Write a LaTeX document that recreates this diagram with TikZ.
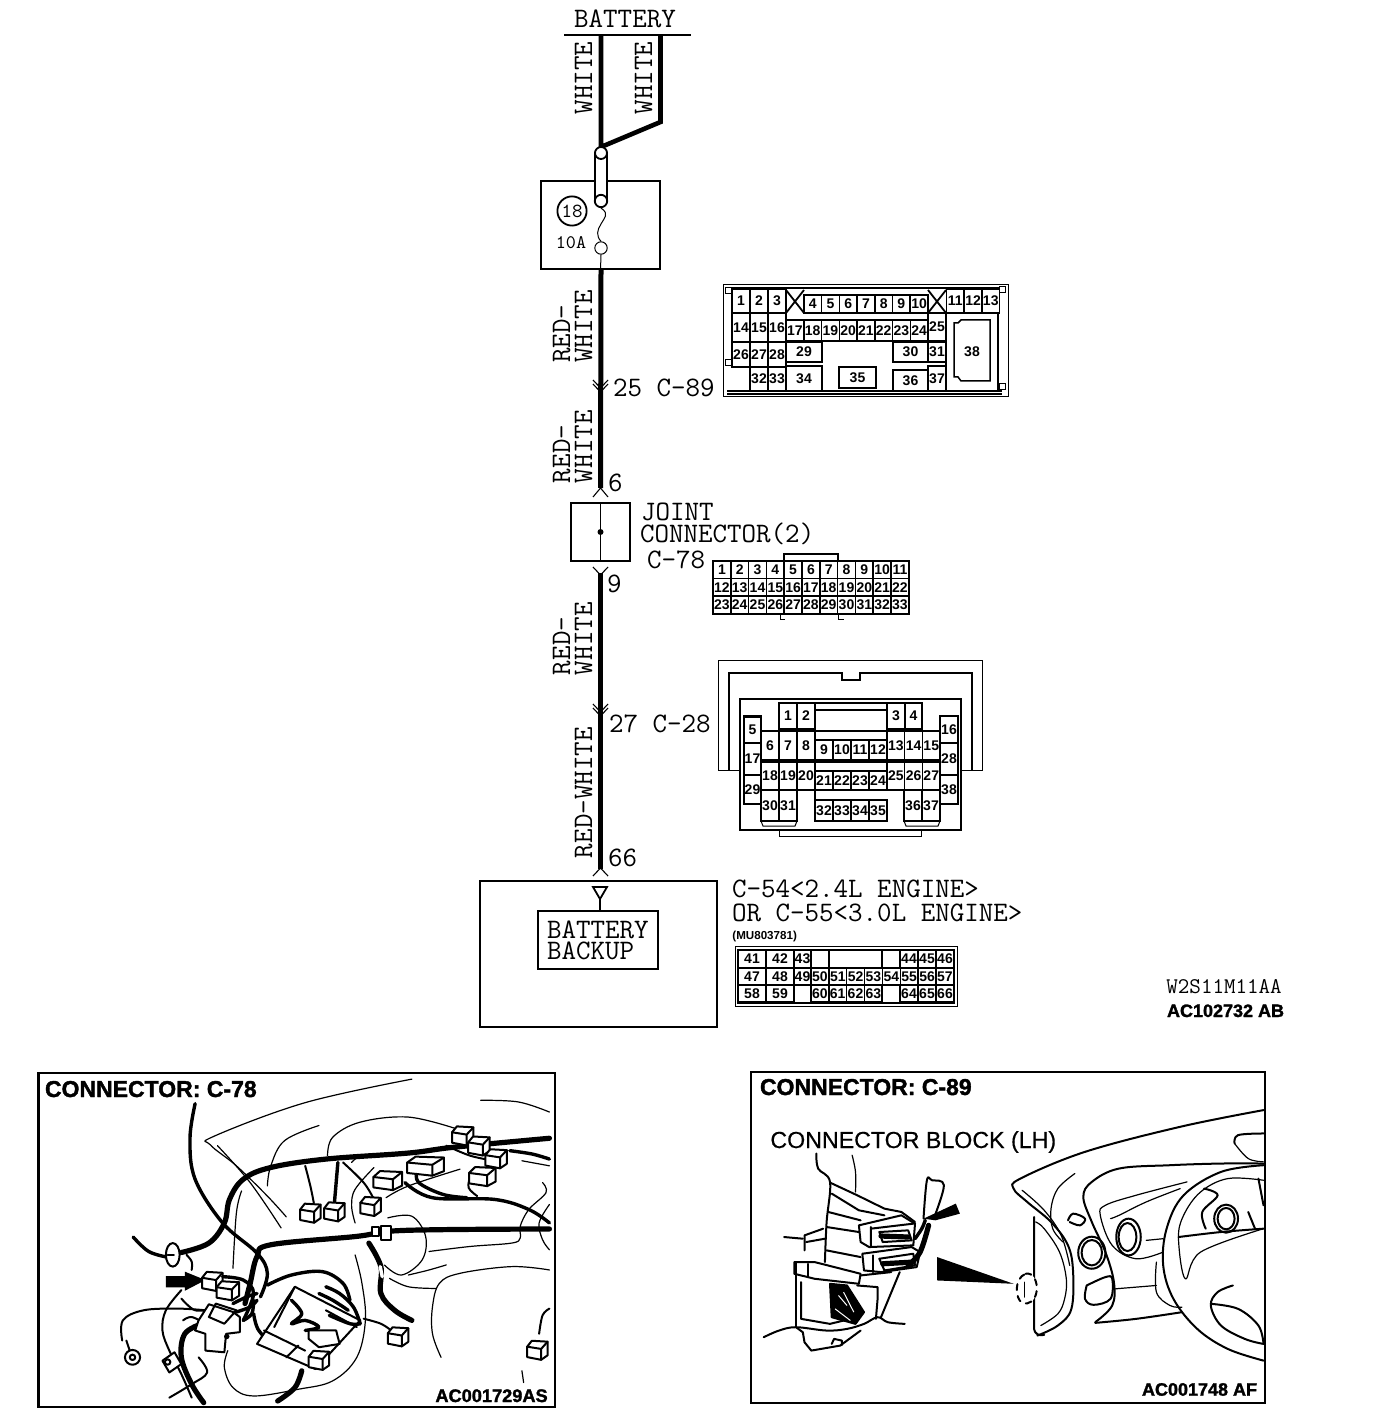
\documentclass[tikz,border=0pt]{standalone}
\usepackage{fontspec}
\setsansfont{Liberation Sans}
\usetikzlibrary{calc}
\newfontfamily\hvy{Liberation Sans}[BoldFeatures={FakeBold=1.6}]
\newfontfamily\hvl{Liberation Sans}[FakeBold=0.5]
\tikzset{
  pxl/.style={x=0.5pt,y=-0.5pt},
  thinl/.style={line width=0.5pt},
  medl/.style={line width=0.9pt},
  wire/.style={line width=2.3pt},
  mono/.style={font=\ttfamily\fontsize{14.1}{14}\selectfont,inner sep=0pt,outer sep=0pt},
  monov/.style={mono,rotate=90},
  cellline/.style={line width=0.75pt},
  celltxt/.style={font=\sffamily\bfseries\fontsize{7}{7}\selectfont,inner sep=0pt},
  heavy/.style={inner sep=0pt,outer sep=0pt},
  sk/.style={line width=0.6pt,line cap=round,line join=round},
  skm/.style={line width=1pt,line cap=round,line join=round},
  skw/.style={line width=1.7pt,line cap=round,line join=round},
  skww/.style={line width=2.6pt,line cap=round,line join=round},
  chev/.style={line width=0.55pt},
}
\newcommand\cprefix{a}
\newcommand\cell[5]{\draw[cellline] (#1,#2) rectangle (#3,#4);
  \node[celltxt] (cell-\cprefix-#5) at ({(#1+#3)/2},{(#2+#4)/2}) {#5};}
\newcommand\rowcells[5]{\foreach \l [count=\i from 0] in {#5}{%
  \cell{#1+\i*#4}{#2}{#1+\i*#4+#4}{#3}{\l}}}
\newcommand\sm[2][sk]{\draw[#1] plot[smooth,tension=0.6] coordinates {#2};}
% small connector prism in zoom coordinates: centre, half width
\newcommand\prism[3][1]{\begin{scope}[shift={(#2,#3)},yscale=1.35,xscale=1.35]
  \draw[skm,fill=white] (-22*#1,-5) -- (-12*#1,-18) -- (22*#1,-16) -- (22*#1,14) -- (8*#1,24) -- (-22*#1,18) -- cycle;
  \draw[skm] (-22*#1,-5) -- (8*#1,0) -- (22*#1,-16) (8*#1,0) -- (8*#1,24);
  \end{scope}}
\begin{document}
\begin{tikzpicture}[pxl]
\useasboundingbox (0,0) rectangle (1392,1422);
% ------- names for the main chain
\node[mono,anchor=base] (bat) at (625,27.5) {BATTERY};
\coordinate (barL) at (564,35);
\coordinate (barR) at (691,35);
\draw[line width=1.1pt] (barL) -- (barR);
\coordinate (wa) at (601,35);
\coordinate (wb) at (660.5,35);
\coordinate (wbk) at (660.5,122);
\coordinate (wj) at (601,147);
\draw[wire,line join=miter] (wa) -- (wj) -- (wbk) -- (wb);
% fuse
\node[draw,line width=0.7pt,minimum width=59.5pt,minimum height=44pt,inner sep=0pt] (fuse) at (600.5,225) {};
\draw[medl,fill=white,rounded corners=3pt] (595,148) rectangle (607,206);
\node[draw,medl,circle,fill=white,minimum size=6pt,inner sep=0pt] (ct) at (601,153) {};
\node[draw,medl,circle,fill=white,minimum size=6.2pt,inner sep=0pt] (cm) at (601,201) {};
\node[draw,thinl,circle,minimum size=6.2pt,inner sep=0pt] (cb) at (601,248) {};
\draw[thinl] (cm.south) .. controls (610,214) and (604,218) .. (601,224) .. controls (597,230) and (596,236) .. (cb.north);
\node[draw,medl,circle,minimum size=14.6pt,inner sep=0pt,font=\ttfamily\fontsize{10}{10}\selectfont] (f18) at (572,211) {18};
\node[font=\ttfamily\fontsize{9.6}{10}\selectfont,inner sep=0pt] (f10) at (571,243) {10A};
\draw[thinl] (cb.south) -- (fuse.south);
% joint
\node[draw,medl,minimum width=29.5pt,minimum height=29pt,inner sep=0pt] (joint) at (600.5,532) {};
\node[circle,fill,minimum size=3pt,inner sep=0pt] (jd) at (joint.center) {};
\draw[medl] (joint.north) -- (joint.south);
% backup
\node[draw,line width=0.85pt,minimum width=118.5pt,minimum height=73pt,inner sep=0pt] (ecu) at (598.5,954) {};
\node[draw,line width=0.85pt,minimum width=60pt,minimum height=29pt,inner sep=0pt] (bb) at (598,940) {};
\node[mono,anchor=base west] (bbt1) at (547,938) {BATTERY};
\node[mono,anchor=base west] (bbt2) at (547,959) {BACKUP};
\coordinate (tip) at (600,899);
\draw[medl] (593,887) -- (607,887) -- (tip) -- cycle;
\draw[medl] (tip) -- (bb.north-|tip);
% wires
\coordinate (w6) at (600.5,488);
\coordinate (w9) at (600.5,573);
\coordinate (w66) at (600.5,869);
\draw[line width=2.5pt] (fuse.south) ++(0.5,0) -- (w6);
\draw[line width=2.5pt] (w9) -- (w66);
% chevrons
\draw[chev] (593,497) -- (600.5,488) -- (608,497);
\draw[chev] (593,567) -- (600.5,575) -- (608,567);
\draw[chev] (593,876) -- (600.5,868) -- (608,876);
\draw[chev] (593,380) -- (600.5,388) -- (608,380) (593,384) -- (600.5,392) -- (608,384);
\draw[chev] (593,704) -- (600.5,712) -- (608,704) (593,708) -- (600.5,716) -- (608,708);
% wire labels
\node[monov,anchor=base] at (592,78) {WHITE};
\node[monov,anchor=base] at (652,78) {WHITE};
\node[monov,anchor=base west] at (570,363) {RED-};
\node[monov,anchor=base west] at (592,363) {WHITE};
\node[monov,anchor=base west] at (570,483) {RED-};
\node[monov,anchor=base west] at (592,483) {WHITE};
\node[monov,anchor=base west] at (570,675) {RED-};
\node[monov,anchor=base west] at (592,675) {WHITE};
\node[monov,anchor=base west] at (592,858) {RED-WHITE};
\node[mono,anchor=base west] at (613,397) {25 C-89};
\node[mono,anchor=base west] at (608,491) {6};
\node[mono,anchor=base west] at (641,520) {JOINT};
\node[mono,anchor=base west] at (640,542) {CONNECTOR(2)};
\node[mono,anchor=base west] at (647,568) {C-78};
\node[mono,anchor=base west] at (607,592) {9};
\node[mono,anchor=base west] at (609,732) {27 C-28};
\node[mono,anchor=base west] at (608,866) {66};
\node[mono,anchor=base west] at (732,897) {C-54<2.4L ENGINE>};
\node[mono,anchor=base west] at (732,921) {OR C-55<3.0L ENGINE>};
\node[font=\sffamily\bfseries\fontsize{5.8}{6}\selectfont,anchor=base west,inner sep=0pt] at (732,939) {(MU803781)};
\node[font=\ttfamily\fontsize{11.2}{12}\selectfont,anchor=base west,inner sep=0pt] at (1166,993) {W2S11M11AA};
\node[heavy,font=\hvy\bfseries\fontsize{9}{9}\selectfont,anchor=base west] at (1167,1017) {AC102732 AB};

% ------- C-89
\renewcommand\cprefix{c89}
\draw[thinl] (723,285) rectangle (1008,397);
\draw[medl] (727,288) -- (1004,288) (727,391) -- (1002,391) (727,394) -- (1002,394);
\foreach \xx/\yy in {728/291,1002/290,728/363,1002/387}{\draw[thinl,fill=white] (\xx-3,\yy-3) rectangle (\xx+3,\yy+3);}
\rowcells{732}{289}{313}{18}{1,2,3}
\draw[medl] (786,290) -- (804,313) (804,290) -- (786,313);
\rowcells{804}{295}{313}{17.7}{4,5,6,7,8,9,10}
\draw[medl] (928,290) -- (946,313) (946,290) -- (928,313);
\rowcells{946.5}{289}{313}{17.7}{11,12,13}
\rowcells{732}{313}{342}{18}{14,15,16}
\rowcells{786}{320}{341}{17.75}{17,18,19,20,21,22,23,24}
\cell{928}{313}{946}{341}{25}
\rowcells{732}{342}{367}{18}{26,27,28}
\cell{786}{342}{822}{362}{29}
\cell{893}{342}{928}{362}{30}
\cell{928}{342}{946}{362}{31}
\rowcells{750}{367}{391}{18}{32,33}
\cell{786}{366}{822}{391}{34}
\cell{839}{367}{876}{388}{35}
\cell{893}{370}{928}{391}{36}
\cell{928}{366}{946}{391}{37}
\draw[cellline] (946,313) rectangle (998,391);
\draw[cellline] (954,323) -- (958,323) -- (961,320) -- (990,320) -- (990,381) -- (961,381) -- (958,377) -- (954,377) -- cycle;
\node[celltxt] (cell-c89-38) at (972,352) {38};

% ------- C-78
\renewcommand\cprefix{c78}
\draw[medl] (784,561) -- (784,554) -- (838,554) -- (838,561);
\draw[thinl] (780,614) -- (780,619) -- (785,619) (838,614) -- (838,619) -- (844,619);
\rowcells{713}{561}{578.5}{17.8}{1,2,3,4,5,6,7,8,9,10,11}
\rowcells{713}{578.5}{596}{17.8}{12,13,14,15,16,17,18,19,20,21,22}
\rowcells{713}{596}{614}{17.8}{23,24,25,26,27,28,29,30,31,32,33}

% ------- C-28
\renewcommand\cprefix{c28}
\draw[thinl] (718,770) -- (718,660) -- (982,660) -- (982,770) -- (961,770) (718,770) -- (740,770);
\draw[medl] (729,770) -- (729,673) -- (842,673) -- (842,680) -- (860,680) -- (860,673) -- (972,673) -- (972,770);
\draw[medl,fill=white] (740,699) rectangle (961,830);
\draw[thinl] (779,830) -- (779,836) -- (921,836) -- (921,830);
\draw[medl] (744,716) rectangle (761,804);
\draw[medl] (940,716) rectangle (958,804);
\cell{779}{703}{797}{729}{1}
\cell{797}{703}{815}{729}{2}
\draw[cellline] (815,703) -- (887,703) (815,710) -- (887,710);
\cell{887}{703}{905}{729}{3}
\cell{905}{703}{922}{729}{4}
\draw[medl] (815,703) -- (815,729) (779,703) -- (779,729) (922,703) -- (922,729);
\rowcells{761}{731}{760}{18}{6,7,8}
\rowcells{815}{740}{760}{18}{9,10,11,12}
\rowcells{887}{731}{760}{17.7}{13,14,15}
\rowcells{761}{762}{790}{18}{18,19,20}
\rowcells{815}{771}{790}{18}{21,22,23,24}
\rowcells{887}{762}{790}{17.7}{25,26,27}
\rowcells{761}{790}{821}{18}{30,31}
\rowcells{815}{800}{821}{18}{32,33,34,35}
\rowcells{904}{790}{821}{18}{36,37}
\draw[medl] (761,731) -- (940,731) (761,760) -- (940,760) (761,762) -- (940,762) (761,790) -- (940,790) (779,729) -- (779,821) (815,729) -- (815,821) (887,703) -- (887,790);
\draw[thinl] (761,821) -- (763,826) -- (795,826) -- (797,821) (904,821) -- (906,826) -- (938,826) -- (940,821);
\cell{744}{717}{761}{743}{5}
\cell{744}{743}{761}{775}{17}
\cell{744}{775}{761}{804}{29}
\cell{940}{716}{958}{743}{16}
\cell{940}{743}{958}{775}{28}
\cell{940}{775}{958}{804}{38}

% ------- C-54
\renewcommand\cprefix{c54}
\draw[thinl] (735,946) rectangle (957,1006);
\draw[medl] (738,950) rectangle (954,1003);
\cell{738}{950}{766}{968}{41}
\cell{766}{950}{794}{968}{42}
\cell{794}{950}{811}{968}{43}
\draw[cellline] (829,950) rectangle (882,968);
\rowcells{900}{950}{968}{18}{44,45,46}
\cell{738}{968}{766}{985}{47}
\cell{766}{968}{794}{985}{48}
\cell{794}{968}{811}{985}{49}
\rowcells{811}{968}{985}{17.85}{50,51,52,53,54,55,56,57}
\cell{738}{985}{766}{1002}{58}
\cell{766}{985}{794}{1002}{59}
\rowcells{811}{985}{1002}{17.8}{60,61,62,63}
\rowcells{900}{985}{1002}{18}{64,65,66}

% ------- left inset
\draw[line width=1.2pt] (38.5,1073) rectangle (555,1407);
\node[heavy,font=\hvy\bfseries\fontsize{11.5}{11}\selectfont,anchor=base west] (lt) at (45,1097) {CONNECTOR: C-78};
\begin{scope}[shift={(30,1065)},x=0.172pt,y=-0.168pt]
\sm{(1110,42)(800,112)(535,212)(525,238)(600,300)(690,390)(745,452)}
\sm{(545,240)(640,350)(730,485)}
\sm{(1310,105)(1420,110)(1510,140)}
\sm{(840,180)(740,225)(700,300)(690,360)}
\sm{(865,270)(880,215)(960,170)(1100,155)(1240,190)}
\sm{(935,290)(960,270)(1000,270)}
\sm{(1000,305)(945,370)(935,420)(945,470)}
\sm{(1035,395)(1100,360)(1250,310)}
\sm{(1430,285)(1510,300)}
\sm{(1490,350)(1500,380)(1450,430)(1425,480)(1425,515)(1400,530)(1280,540)(1160,555)}
\sm{(1510,415)(1480,470)(1490,520)(1510,550)}
\sm{(1040,455)(1110,450)(1150,510)(1140,580)(1080,625)(1030,595)}
\sm{(1045,635)(1100,660)(1180,665)}
\sm{(1510,610)(1400,600)(1250,620)(1190,650)(1170,720)(1170,800)(1195,870)}
\sm{(1100,625)(1160,610)(1210,595)}
\sm{(945,565)(965,650)(975,760)(950,870)(880,940)(780,965)(650,985)(590,960)(565,900)(575,850)}
\sm{(615,375)(600,440)(590,605)}
\sm{(1430,910)(1435,945)}
\sm[skm]{(1510,725)(1490,745)(1480,800)}
\sm[skw]{(300,512)(345,555)(400,572)}
\sm[skww]{(440,558)(520,530)(565,470)(580,400)(620,340)(700,305)(860,280)(1100,262)(1230,245)(1510,218)}
\sm[skww]{(1510,488)(1200,490)(1040,495)(950,510)(700,535)(660,570)(640,650)(625,710)}
\sm[skw]{(480,115)(465,220)(480,340)(560,470)(660,560)(690,620)(670,690)}
\sm[skww]{(985,530)(1020,600)(1020,680)(1060,730)(1110,760)}
\sm[skw]{(1090,350)(1170,395)(1350,400)(1450,430)(1510,470)}
\sm[skw]{(1125,315)(1130,350)(1200,385)(1270,395)}
\sm[skm]{(1280,330)(1275,365)(1300,390)}
\sm[skm]{(800,300)(815,360)(825,410)}
\sm[skw]{(895,290)(890,350)(885,410)}
\sm[skm]{(910,290)(970,350)(1000,400)}
\sm[skm]{(1210,240)(1280,270)(1350,285)}
\sm[skw]{(1395,255)(1460,265)(1510,280)}
\draw[skm,fill=white] (415,565) ellipse (20 and 35);
\draw[skm] (400,565) -- (418,565);
\sm[skm]{(455,565)(470,585)(470,610)}
% big arrow
\fill (395,628) -- (450,628) -- (450,615) -- (510,640) -- (450,672) -- (450,662) -- (395,662) -- cycle;
% relay group
\prism{530}{640}
\prism[1.1]{575}{668}
\sm[skw]{(560,630)(620,640)(650,680)(620,760)}
\sm[skw]{(690,655)(760,625)(850,615)(910,650)(930,700)}
\sm[skw]{(650,740)(665,790)(710,825)(770,790)(780,710)}
\sm[skw]{(590,710)(630,690)(660,680)}
\sm[skw]{(600,735)(640,720)(660,700)}
\sm[skw]{(620,760)(645,740)(650,700)}
% lower-left wires
\sm[skm]{(268,820)(270,760)(330,730)(430,725)(510,730)}
\sm[skm]{(440,670)(395,730)(385,790)(405,850)(440,920)(470,990)}
\sm[skm]{(440,695)(480,730)(530,725)}
\sm[skm]{(405,990)(470,950)(515,915)(490,870)}
\sm[skww]{(500,770)(450,800)(440,870)(470,950)(505,1005)}
\sm[skm]{(445,760)(470,750)(510,770)}
\draw[skm,fill=white] (298,870) circle (22);
\draw[skm] (298,870) circle (8);
\draw[skm] (280,820) -- (290,850);
\draw[skm,fill=white] (385,880) -- (420,855) -- (440,890) -- (405,915) -- cycle;
\draw[skm] (400,884) circle (8);
\draw[skm,fill=white] (520,712) -- (590,735) -- (610,750) -- (610,795) -- (570,800) -- (565,855) -- (510,850) -- (510,800) -- (480,790) -- (490,760) -- cycle;
\draw[skm] (540,710) -- (600,730) -- (565,770) -- (520,750) -- cycle;
\fill (572,808) circle (8);
\draw[skm,fill=white] (770,660) -- (960,760) -- (830,905) -- (660,830) -- cycle;
\draw[skm] (680,790) -- (800,850) (770,660) -- (710,780) (860,730) -- (950,780) (745,870) -- (780,835);
\sm[skw]{(760,700)(790,740)(760,770)(800,760)(840,780)(800,790)}
\sm[skw]{(860,660)(900,680)(940,720)(960,770)}
\sm[skw]{(840,680)(880,700)(925,730)}
\sm[skw]{(870,745)(930,770)(960,770)}
\sm[skm]{(970,755)(1020,770)(1050,790)}
\sm[skww]{(790,910)(770,960)(720,1000)}
\draw[skm,fill=white] (810,790) -- (890,790) -- (900,830) -- (840,840) -- (810,815) -- cycle;
\prism{840}{875}
\prism{1070}{805}
\prism{815}{437}
\prism{885}{433}
\prism{990}{417}
\prism[1.4]{1040}{340}
\prism[1.8]{1150}{297}
\prism[1.3]{1315}{328}
\prism[1.05]{1258}{207}
\prism[1.05]{1305}{237}
\prism[1.05]{1355}{275}
\prism{1475}{845}
% clip and strap on the harness
\draw[skm,fill=white] (995,483) rectangle (1015,510);
\draw[skm,fill=white] (1020,478) rectangle (1050,520);
\draw[skw,white] (1018,600) -- (1024,630);
\node[heavy,font=\hvy\bfseries\fontsize{9.1}{9}\selectfont,anchor=base east] (la) at (1505,1003) {AC001729AS};
\end{scope}

% ------- right inset
\draw[line width=1.2pt] (751,1072) rectangle (1265,1403);
\node[heavy,font=\hvy\bfseries\fontsize{11.5}{11}\selectfont,anchor=base west] (rt) at (760,1095) {CONNECTOR: C-89};
\node[font=\hvl\fontsize{11.6}{11}\selectfont,inner sep=0pt,anchor=base west] (rb) at (770,1148) {CONNECTOR BLOCK (LH)};
\begin{scope}[shift={(745,1065)},x=0.17pt,y=-0.167pt]
% dashboard
\sm[skm]{(1525,135)(1280,185)(1000,260)(810,340)(790,370)(830,410)(900,470)(950,540)(965,620)(960,730)(920,780)(860,810)}
\sm{(815,375)(880,435)(930,510)(955,600)}
\draw[skm] (850,455) -- (850,790) (850,790) .. controls (852,805) and (865,812) .. (880,808);
\sm{(870,780)(920,745)(940,700)(945,640)(925,560)(880,490)(855,470)}
\sm{(970,325)(920,370)(900,430)(905,490)(935,530)}
\sm[skm]{(1525,295)(1400,295)(1250,300)(1100,310)(1020,350)(995,395)(1020,470)(1060,560)(1085,650)(1080,720)(1030,770)}
\sm{(1300,350)(1150,390)(1060,420)(1045,450)(1080,540)(1150,580)(1230,560)}
\sm{(1280,370)(1180,410)(1100,450)(1075,460)}
\sm[skm]{(950,465)(965,445)(1000,460)(985,480)(955,470)}
\draw[skm] (1020,562) ellipse (40 and 48);
\draw[skm] (1020,562) ellipse (30 and 38);
\sm[skm]{(1005,660)(1060,635)(1080,640)(1075,700)(1025,718)(1000,700)(1005,660)}
\draw[skm] (1128,515) ellipse (36 and 55);
\draw[skm] (1125,515) ellipse (26 and 42);
\sm{(1090,670)(1210,660)}
\sm[skm]{(1030,772)(1150,760)(1285,740)}
\sm{(1180,525)(1230,520)}
% wheel
\sm[skm]{(1525,300)(1400,320)(1290,390)(1240,490)(1230,600)(1260,700)(1330,790)(1420,850)(1525,885)}
\sm[sk]{(1525,345)(1420,340)(1340,380)(1290,450)(1275,520)(1295,640)(1340,560)(1525,490)}
\sm[skm]{(1275,515)(1400,500)(1525,490)}
\sm[skm]{(1440,235)(1450,210)(1525,205)}
\sm{(1440,235)(1480,280)(1525,290)}
\sm[skm]{(1510,340)(1525,420)}
\sm[skm]{(1350,370)(1390,390)(1345,440)(1355,490)}
\draw[skm] (1415,460) ellipse (35 and 42);
\draw[skm] (1415,460) ellipse (25 and 32);
\sm[skm]{(1480,440)(1500,490)}
\sm[skm]{(1435,660)(1390,680)(1370,720)(1400,780)(1470,820)(1525,835)}
\sm[skm]{(1370,715)(1450,730)(1510,780)(1525,835)}
\sm{(1210,590)(1210,680)(1250,720)(1285,725)}
% pointer and dashed connector
\fill (565,575) -- (790,655) -- (565,645) -- cycle;
\draw[skm,dashed,fill=white] (825,625) .. controls (850,620) and (860,650) .. (858,675) .. controls (855,705) and (835,720) .. (815,712) .. controls (795,700) and (790,640) .. (825,625) -- cycle;
\draw[sk] (822,650) -- (822,695);
% connector block body
\sm[skm]{(210,265)(215,310)(250,350)(240,470)(235,590)}
\sm{(315,270)(325,320)(325,380)}
\draw[skm] (250,352) -- (330,390) -- (410,430) -- (460,440) -- (500,470);
\draw[skm] (255,385) -- (335,435) -- (410,450);
\draw[skm] (245,440) -- (340,465);
\draw[skm] (240,485) -- (335,500);
\draw[skm] (240,555) -- (340,575);
% two connectors
\draw[skm,fill=white] (335,480) -- (460,450) -- (500,475) -- (495,540) -- (365,545) -- (340,530) -- cycle;
\draw[skm] (370,485) -- (370,545) (370,490) -- (495,475);
\draw[skww] (400,512) -- (480,515);
\draw[skm] (395,500) -- (480,495) -- (490,525) -- (405,530) -- cycle;
\draw[skm,fill=white] (345,565) -- (490,545) -- (515,560) -- (505,605) -- (400,620) -- (350,615) -- cycle;
\draw[skm] (375,570) -- (375,620);
\draw[skww] (405,595) -- (495,590);
\draw[skm] (395,580) -- (495,565) -- (500,600) -- (410,615) -- cycle;
\sm[skww]{(480,600)(515,560)(540,480)}
\sm[skw]{(500,520)(520,490)(530,465)}
\sm[skm]{(525,460)(535,345)(550,345)(585,360)(555,460)}
\fill (525,460) -- (620,415) -- (632,445) -- (560,465) -- cycle;
% lower holder
\draw[skm] (175,555) -- (175,510) -- (230,490);
\draw[skm] (115,515) -- (170,520) (180,530) -- (235,520);
\draw[skm,fill=white] (145,590) -- (205,590) -- (340,625) -- (335,655) -- (205,640) -- (145,625) -- cycle;
\draw[skm] (150,590) -- (150,780) (185,595) -- (185,635);
\draw[skm] (165,650) -- (165,760) -- (250,775) -- (310,760);
\draw[skm] (340,630) -- (430,620);
\draw[skm] (330,660) -- (390,665) -- (390,700) -- (385,760);
\draw[skm] (455,620) -- (400,755);
\draw[skm,fill=black] (250,655) -- (300,660) -- (350,740) -- (325,775) -- (255,755) -- cycle;
\draw[white,line width=0.5pt] (275,690) -- (300,720) (290,680) -- (320,740) (265,730) -- (310,765);
\sm[skm]{(55,815)(100,795)(150,785)(240,795)(300,790)(350,775)(390,755)(420,770)(470,775)}
\draw[skm] (150,785) -- (170,800) -- (175,830) -- (195,855) -- (280,840) -- (340,795);
\draw[skm] (255,835) -- (262,820) -- (285,825) -- (285,838);
\node[heavy,font=\hvy\bfseries\fontsize{9}{9}\selectfont,anchor=base east] (ra) at (1506,990) {AC001748 AF};
\end{scope}
\end{tikzpicture}
\end{document}
